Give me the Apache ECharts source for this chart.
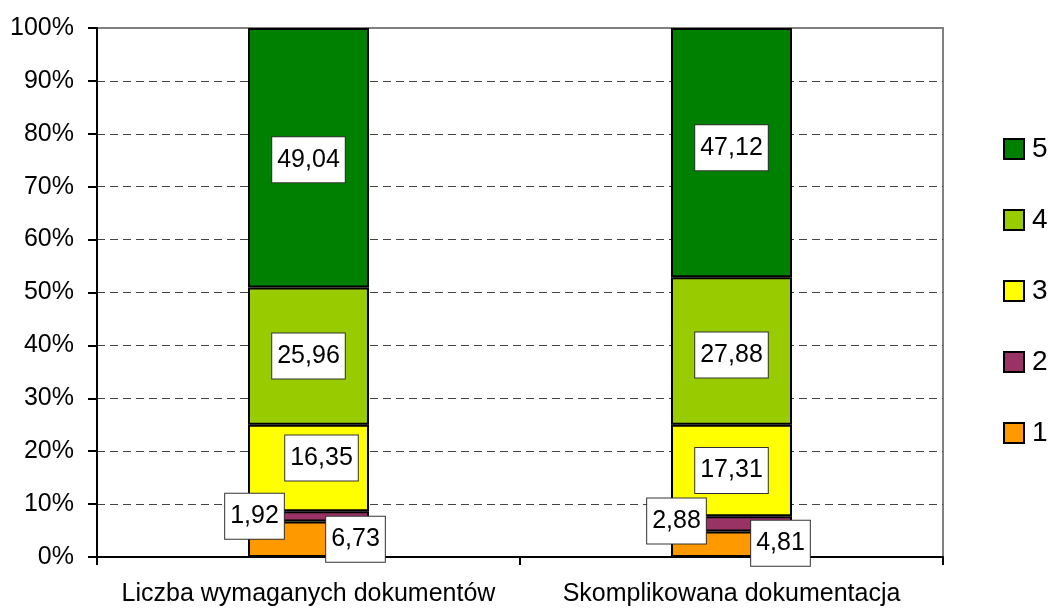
<!DOCTYPE html>
<html>
<head>
<meta charset="utf-8">
<script src="https://cdn.jsdelivr.net/npm/echarts@6/dist/echarts.min.js"></script>
<style>
  html, body { margin: 0; padding: 0; background: #fff; }
  #chart { width: 1049px; height: 608px; }
</style>
</head>
<body>
<div id="chart"></div>
<script>
var categories = ['Liczba wymaganych dokumentów', 'Skomplikowana dokumentacja'];
var seriesNames = ['1', '2', '3', '4', '5'];
var s1 = [6.73, 4.81];
var s2 = [1.92, 2.88];
var s3 = [16.35, 17.31];
var s4 = [25.96, 27.88];
var s5 = [49.04, 47.12];
var yTicks = [0, 10, 20, 30, 40, 50, 60, 70, 80, 90, 100];

var chartDom = document.getElementById('chart');
var myChart = echarts.init(chartDom);
var option;

var colors = ['#FF9900', '#993366', '#FFFF00', '#99CC00', '#008000'];
var values = [s1, s2, s3, s4, s5];
// label nudges per series / category (Excel moved the small ones aside)
var labelOffsets = [
    [[47, 0], [49, -1]],
    [[-54, 0], [-55, -3]],
    [[13, -10], [0, 0]],
    [[0, 0], [0, 4]],
    [[0, 2], [0, -5]]
];
var font = 'Liberation Sans, Arial, sans-serif';

var series = seriesNames.map(function (name, i) {
    return {
        name: name,
        type: 'bar',
        stack: 'total',
        barWidth: '28.6%',
        itemStyle: { color: colors[i], borderColor: '#000', borderWidth: 2 },
        data: values[i].map(function (v, j) {
            return {
                value: v,
                label: { offset: labelOffsets[i][j] }
            };
        }),
        label: {
            show: true,
            position: 'inside',
            formatter: function (p) { return p.value.toFixed(2).replace('.', ','); },
            color: '#000',
            fontFamily: font,
            fontSize: 25,
            lineHeight: 30,
            backgroundColor: '#fff',
            borderColor: '#333',
            borderWidth: 1,
            padding: [8, 5, 7, 5]
        },
        emphasis: { disabled: true }
    };
});

option = {
    animation: false,
    backgroundColor: '#fff',
    grid: {
        left: 97, right: 106, top: 28, bottom: 51,
        show: true, borderColor: '#808080', borderWidth: 2
    },
    legend: {
        data: seriesNames.slice().reverse(),
        orient: 'vertical',
        left: 1003,
        top: 135,
        padding: 0,
        icon: 'rect',
        itemWidth: 20,
        itemHeight: 20,
        itemGap: 43,
        itemStyle: { borderColor: '#000', borderWidth: 2 },
        textStyle: { fontFamily: font, fontSize: 28, color: '#000', padding: [0, 0, 0, 3] },
        selectedMode: false
    },
    xAxis: {
        type: 'category',
        data: categories,
        axisLine: { lineStyle: { color: '#000', width: 2 } },
        axisTick: { show: true, length: 8, lineStyle: { color: '#000', width: 2 } },
        axisLabel: { fontFamily: font, fontSize: 25, color: '#000', margin: 25, interval: 0, hideOverlap: false }
    },
    yAxis: {
        type: 'value',
        min: yTicks[0],
        max: yTicks[yTicks.length - 1],
        interval: 10,
        axisLine: { show: true, lineStyle: { color: '#000', width: 2 } },
        axisTick: { show: true, length: 9, lineStyle: { color: '#000', width: 2 } },
        axisLabel: { fontFamily: font, fontSize: 25, color: '#000', margin: 23, formatter: '{value}%' },
        splitLine: {
            show: true,
            lineStyle: {
                color: ['#444', '#444', '#444', '#444', '#444', '#444', '#444', '#444', '#444', '#444', 'rgba(0,0,0,0)'],
                type: [8, 5],
                width: 1
            }
        }
    },
    series: series
};

option && myChart.setOption(option);
</script>
</body>
</html>
